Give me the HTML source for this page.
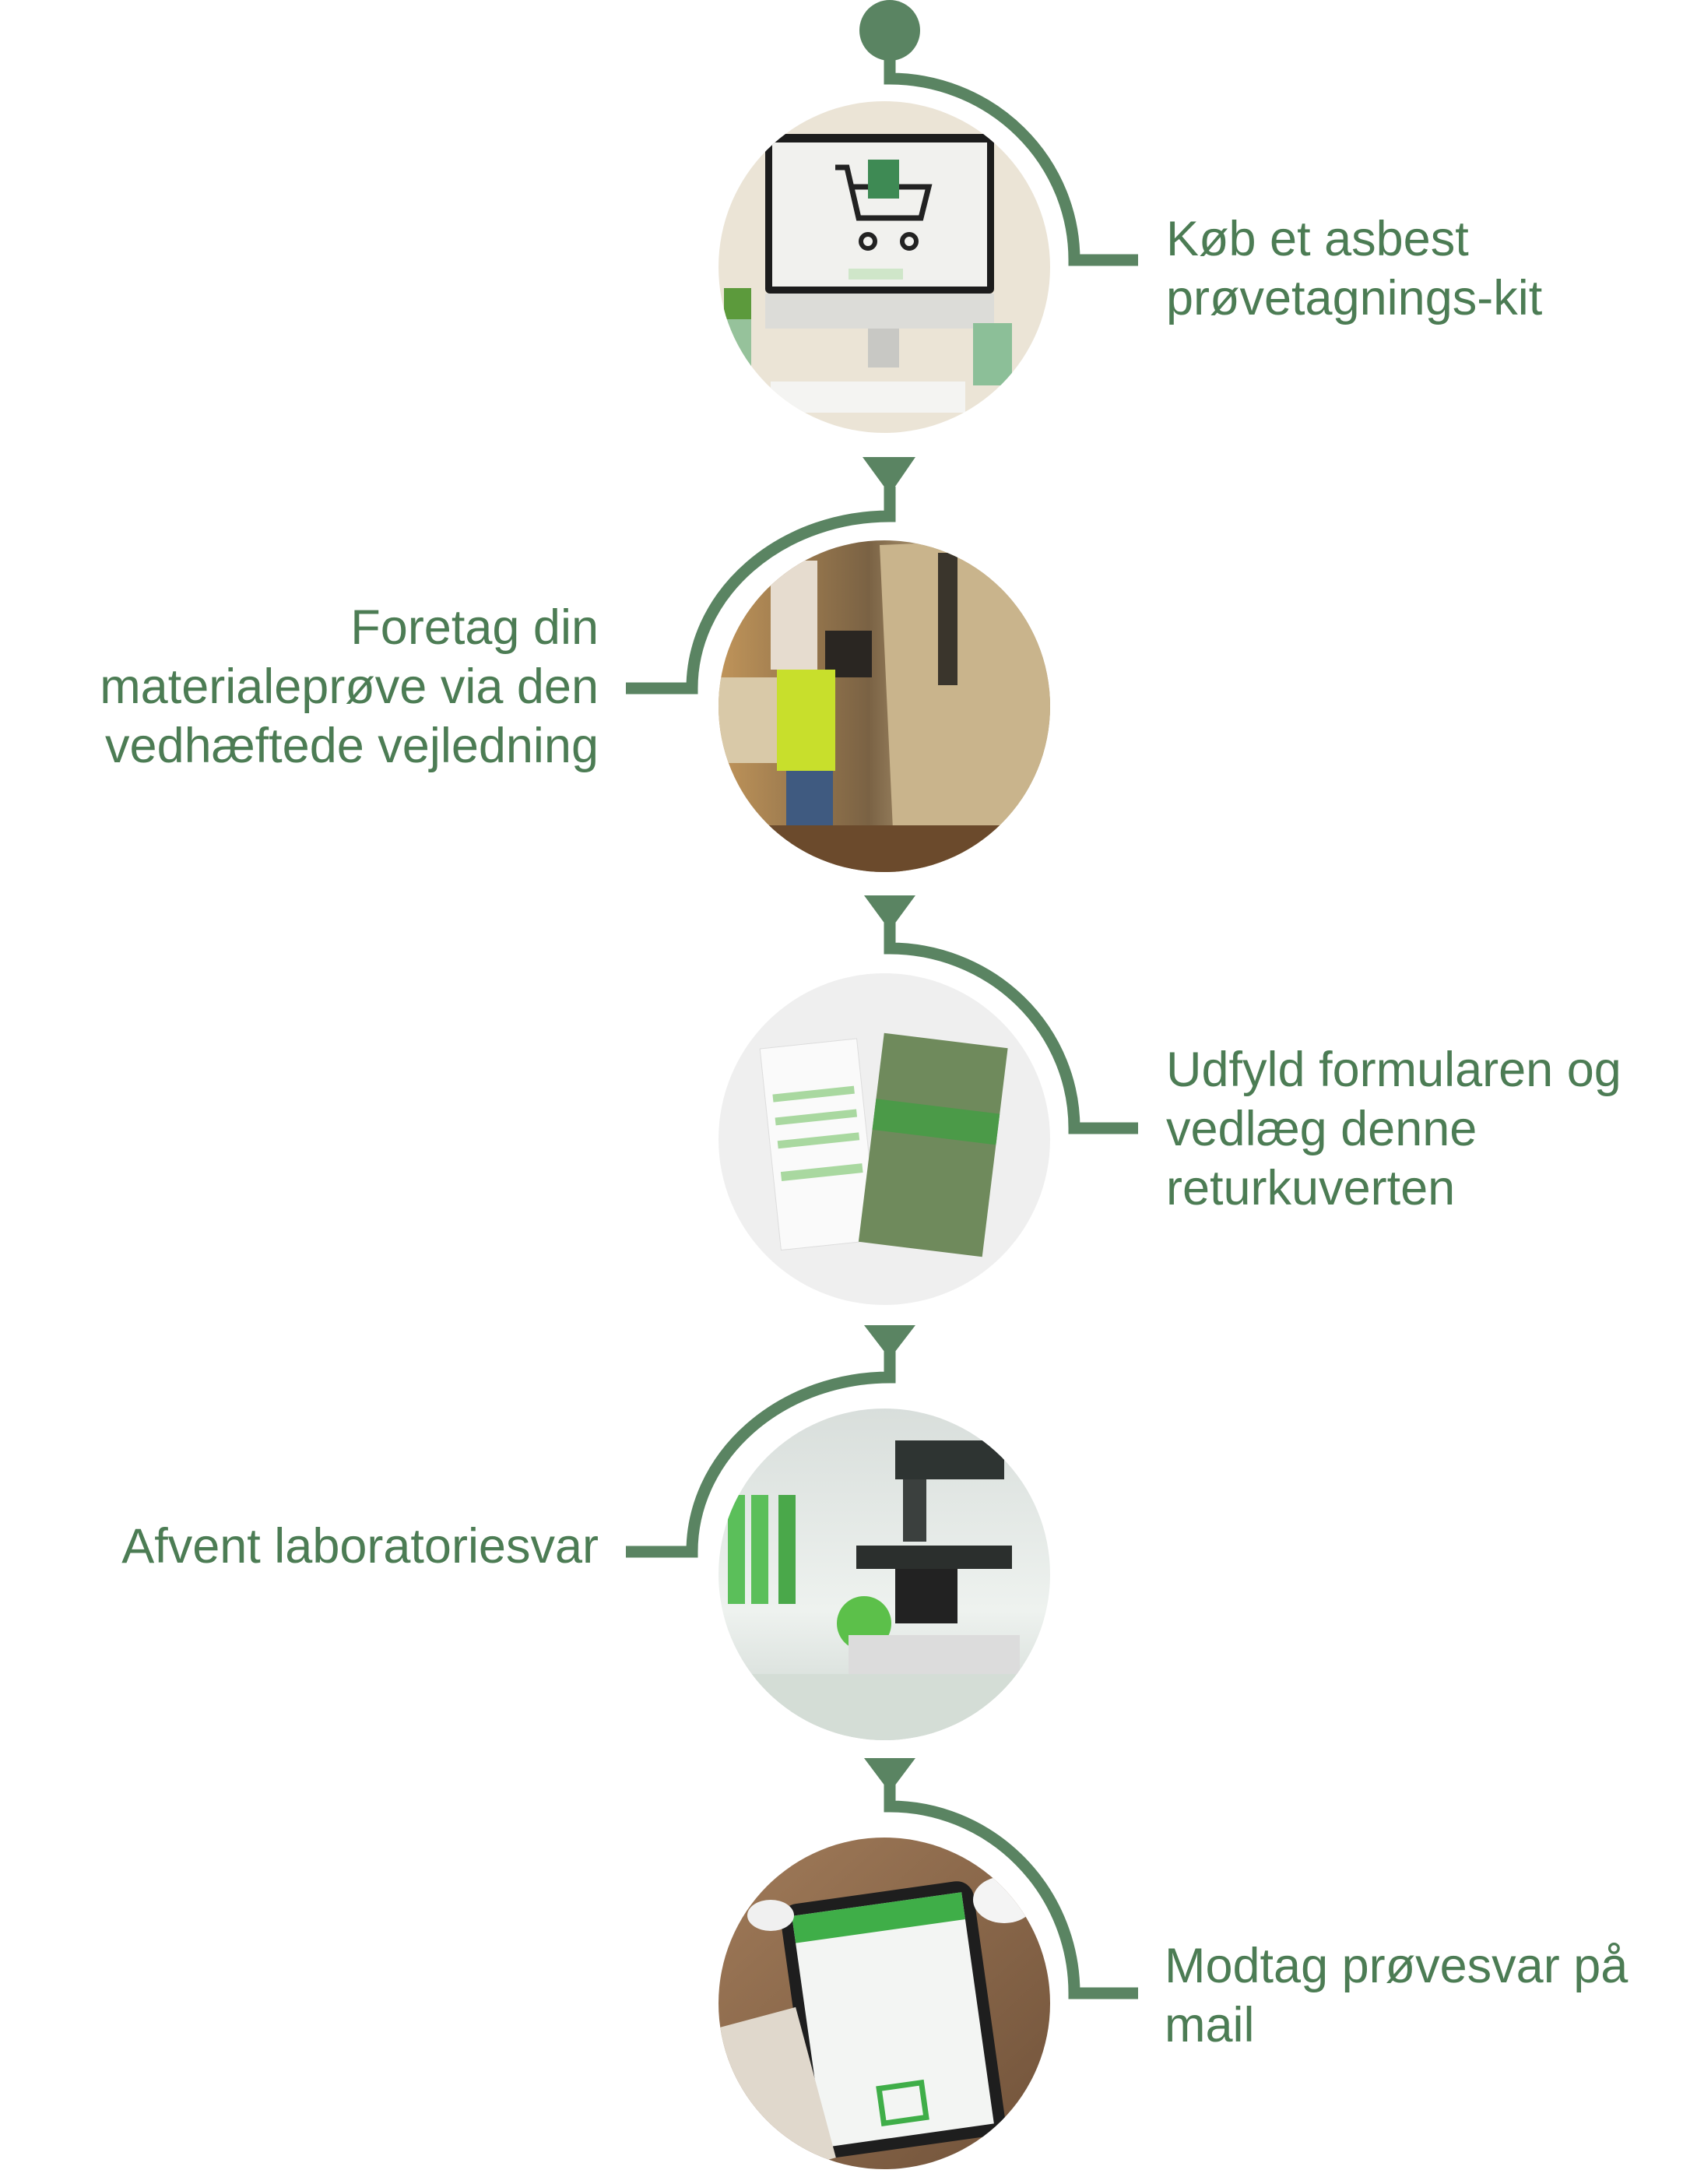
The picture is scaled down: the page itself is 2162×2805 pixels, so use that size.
<!DOCTYPE html>
<html><head><meta charset="utf-8"><style>
html,body{margin:0;padding:0;background:#fff}
svg{display:block}
text{font-family:"Liberation Sans",sans-serif;font-size:63px;fill:#4c7c54}
</style></head><body>
<svg width="2162" height="2805" viewBox="0 0 2162 2805" xmlns="http://www.w3.org/2000/svg">
<defs>
<clipPath id="c1"><circle cx="1136" cy="343" r="213"/></clipPath>
<clipPath id="c2"><circle cx="1136" cy="907" r="213"/></clipPath>
<clipPath id="c3"><circle cx="1136" cy="1463" r="213"/></clipPath>
<clipPath id="c4"><circle cx="1136" cy="2022" r="213"/></clipPath>
<clipPath id="c5"><circle cx="1136" cy="2573" r="213"/></clipPath>
<linearGradient id="g2" x1="0" y1="0" x2="1" y2="0"><stop offset="0" stop-color="#c89a5c"/><stop offset="0.45" stop-color="#7a6244"/><stop offset="0.7" stop-color="#cdb88f"/><stop offset="1" stop-color="#a88c62"/></linearGradient>
<linearGradient id="g4" x1="0" y1="0" x2="0" y2="1"><stop offset="0" stop-color="#d8dedb"/><stop offset="0.6" stop-color="#eef2ef"/><stop offset="1" stop-color="#c9d2cd"/></linearGradient>
<linearGradient id="g5" x1="0" y1="0" x2="1" y2="1"><stop offset="0" stop-color="#a27c5a"/><stop offset="1" stop-color="#6e5038"/></linearGradient>
</defs>

<g fill="none" stroke="#5a8462" stroke-width="15">
<circle cx="1143" cy="39" r="39" fill="#5a8462" stroke="none"/>
<path d="M1143 40 V101 A237 233 0 0 1 1380 334 H1462"/>
<path d="M1143 625 V663 A254 221 0 0 0 889 884 H804"/>
<path d="M1143 1185 V1218 A237 231 0 0 1 1380 1449 H1462"/>
<path d="M1143 1735 V1769 A254 224 0 0 0 889 1993 H804"/>
<path d="M1143 2292 V2320 A237 240 0 0 1 1380 2560 H1462"/>
</g>
<g fill="#5a8462">
<polygon points="1108,587 1176,587 1143,635"/>
<polygon points="1110,1150 1176,1150 1143,1195"/>
<polygon points="1110,1702 1176,1702 1143,1745"/>
<polygon points="1110,2258 1176,2258 1143,2302"/>
</g>

<g clip-path="url(#c1)">
<rect x="900" y="120" width="480" height="450" fill="#ebe4d6"/>
<rect x="983" y="172" width="294" height="205" rx="6" fill="#1c1c1c"/>
<rect x="992" y="183" width="276" height="185" fill="#f1f1ee"/>
<rect x="983" y="377" width="294" height="45" fill="#dcdcd8"/>
<rect x="1115" y="422" width="40" height="50" fill="#c8c8c4"/>
<rect x="990" y="490" width="250" height="40" fill="#f4f4f2"/>
<path d="M1073 215 h15 l15 65 h80 l10 -40 h-100" fill="none" stroke="#222" stroke-width="7"/>
<rect x="1115" y="205" width="40" height="50" fill="#3e8a54"/>
<circle cx="1115" cy="310" r="9" fill="none" stroke="#222" stroke-width="6"/>
<circle cx="1168" cy="310" r="9" fill="none" stroke="#222" stroke-width="6"/>
<rect x="1090" y="345" width="70" height="14" fill="#cfe6c9"/>
<rect x="1250" y="415" width="50" height="80" fill="#8cbf98"/>
<rect x="930" y="405" width="35" height="80" fill="#96c29b"/>
<rect x="930" y="370" width="35" height="40" fill="#5c9a3c"/>
</g>

<g clip-path="url(#c2)">
<rect x="900" y="690" width="480" height="440" fill="url(#g2)"/>
<rect x="990" y="720" width="60" height="140" fill="#e6dccf"/>
<polygon points="1130,700 1380,690 1380,1130 1150,1130" fill="#c9b48c"/>
<rect x="1205" y="710" width="25" height="170" fill="#3a352c"/>
<rect x="920" y="870" width="90" height="110" fill="#d9c9a8"/>
<rect x="1060" y="810" width="60" height="60" fill="#2a2622"/>
<rect x="998" y="860" width="75" height="130" fill="#c8df2c"/>
<rect x="1010" y="990" width="60" height="90" fill="#3f5a80"/>
<rect x="920" y="1060" width="440" height="80" fill="#6b4a2c"/>
</g>

<g clip-path="url(#c3)">
<rect x="900" y="1250" width="480" height="430" fill="#efefef"/>
<g transform="rotate(-6 1050 1475)"><rect x="990" y="1340" width="125" height="260" fill="#fafafa" stroke="#ddd"/>
<rect x="1000" y="1400" width="105" height="10" fill="#a9d8a0"/><rect x="1000" y="1430" width="105" height="10" fill="#a9d8a0"/><rect x="1000" y="1460" width="105" height="10" fill="#a9d8a0"/><rect x="1000" y="1500" width="105" height="12" fill="#a9d8a0"/></g>
<g transform="rotate(7 1195 1460)"><rect x="1120" y="1335" width="160" height="270" fill="#6f8a5c"/><rect x="1120" y="1420" width="160" height="40" fill="#4b9a48"/></g>
</g>

<g clip-path="url(#c4)">
<rect x="900" y="1805" width="480" height="440" fill="url(#g4)"/>
<rect x="935" y="1920" width="22" height="140" fill="#5bbf5a"/>
<rect x="965" y="1920" width="22" height="140" fill="#5bbf5a"/>
<rect x="1000" y="1920" width="22" height="140" fill="#4aa84a"/>
<circle cx="1110" cy="2085" r="35" fill="#5cc04a"/>
<rect x="1150" y="1850" width="140" height="50" fill="#2e3432"/>
<rect x="1160" y="1900" width="30" height="80" fill="#3b403e"/>
<rect x="1100" y="1985" width="200" height="30" fill="#2b2f2d"/>
<rect x="1150" y="2015" width="80" height="70" fill="#222"/>
<rect x="1090" y="2100" width="220" height="50" fill="#dcdcdc"/>
<rect x="920" y="2150" width="440" height="90" fill="#d4ddd6"/>
</g>

<g clip-path="url(#c5)">
<rect x="900" y="2355" width="480" height="440" fill="url(#g5)"/>
<g transform="rotate(-8 1140 2580)">
<rect x="1020" y="2430" width="250" height="330" rx="22" fill="#1e1e1e"/>
<rect x="1035" y="2445" width="220" height="300" fill="#f3f5f3"/>
<rect x="1035" y="2445" width="220" height="35" fill="#3fae48"/>
<rect x="1115" y="2680" width="55" height="45" fill="none" stroke="#3fae48" stroke-width="7"/>
</g>
<rect x="930" y="2590" width="120" height="200" fill="#e0d8cc" transform="rotate(-15 990 2690)"/>
<ellipse cx="990" cy="2460" rx="30" ry="20" fill="#f0f0f0"/>
<ellipse cx="1290" cy="2440" rx="40" ry="30" fill="#f4f4f4"/>
</g>

<text x="1498" y="328">Køb et asbest</text>
<text x="1498" y="404">prøvetagnings-kit</text>
<g text-anchor="end">
<text x="769" y="827">Foretag din</text>
<text x="769" y="903">materialeprøve via den</text>
<text x="769" y="979">vedhæftede vejledning</text>
<text x="769" y="2007">Afvent laboratoriesvar</text>
</g>
<text x="1498" y="1395">Udfyld formularen og</text>
<text x="1498" y="1471">vedlæg denne</text>
<text x="1498" y="1547">returkuverten</text>
<text x="1496" y="2546">Modtag prøvesvar på</text>
<text x="1496" y="2622">mail</text>
</svg>
</body></html>
